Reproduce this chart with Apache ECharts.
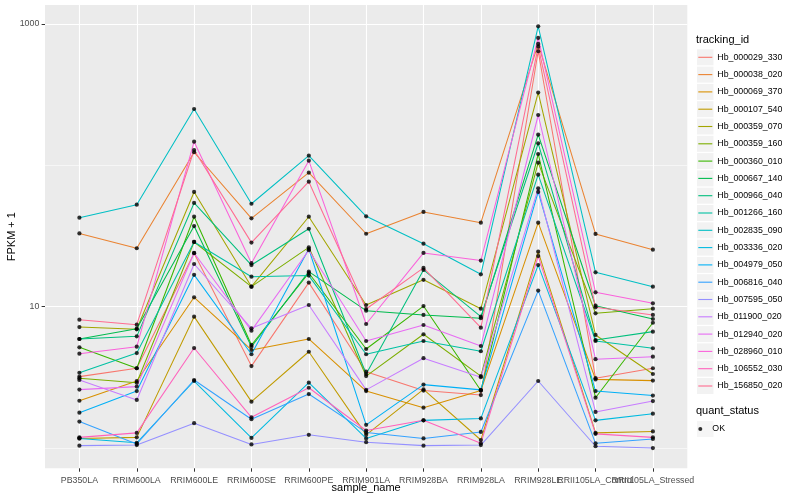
<!DOCTYPE html>
<html>
<head>
<meta charset="utf-8">
<script src="https://cdn.jsdelivr.net/npm/echarts@6/dist/echarts.min.js"></script>
<style>html,body{margin:0;padding:0;background:#fff}#c{width:800px;height:500px}</style>
</head>
<body>
<div id="c"></div>
<script>
// ---- data (FPKM + 1) ----
const categories = ['PB350LA','RRIM600LA','RRIM600LE','RRIM600SE','RRIM600PE','RRIM901LA','RRIM928BA','RRIM928LA','RRIM928LE','RRII105LA_Control','RRII105LA_Stressed'];
const trackingIds = ['Hb_000029_330','Hb_000038_020','Hb_000069_370','Hb_000107_540','Hb_000359_070','Hb_000359_160','Hb_000360_010','Hb_000667_140','Hb_000966_040','Hb_001266_160','Hb_002835_090','Hb_003336_020','Hb_004979_050','Hb_006816_040','Hb_007595_050','Hb_011900_020','Hb_012940_020','Hb_028960_010','Hb_106552_030','Hb_156850_020'];
const quantStatus = ['OK'];

const hb_000029_330 = [3.2, 3.67, 23.9, 3.8, 14.8, 3.47, 2.55, 2.37, 641, 3.12, 3.67];
const hb_000038_020 = [33.0, 25.9, 123.7, 42.2, 88.7, 32.8, 46.8, 39.3, 722, 32.7, 25.3];
const hb_000069_370 = [2.16, 2.98, 11.65, 4.94, 5.91, 2.53, 1.93, 2.55, 39.3, 3.06, 3.0];
const hb_000107_540 = [1.17, 1.19, 8.5, 2.13, 4.8, 1.24, 2.6, 1.14, 24.5, 1.28, 1.31];
const hb_000359_070 = [7.18, 6.92, 64.8, 13.85, 43.3, 10.28, 15.5, 9.68, 327, 6.31, 3.34];
const hb_000359_160 = [3.12, 2.9, 28.7, 13.85, 26.3, 3.23, 6.38, 3.23, 104.4, 8.98, 9.68];
const hb_000360_010 = [5.16, 3.67, 43.3, 5.36, 17.3, 5.02, 10.1, 2.55, 120.3, 2.27, 7.7];
const hb_000667_140 = [5.91, 6.99, 37.2, 5.21, 17.7, 9.37, 8.74, 8.28, 164.8, 10.16, 8.18];
const hb_000966_040 = [5.91, 6.17, 54.2, 19.7, 35.6, 3.34, 18.2, 8.5, 143.2, 5.81, 6.66];
const hb_001266_160 = [3.41, 4.7, 28.7, 16.3, 16.6, 4.61, 5.72, 4.84, 85.9, 5.72, 5.08];
const hb_002835_090 = [42.6, 52.7, 250.4, 53.5, 117, 43.6, 27.9, 16.95, 963, 17.5, 13.85];
const hb_003336_020 = [1.17, 1.09, 2.98, 1.18, 2.9, 1.17, 1.57, 1.62, 19.7, 1.57, 1.75];
const hb_004979_050 = [1.78, 2.53, 16.8, 4.61, 25.6, 1.46, 2.81, 2.58, 64.8, 2.53, 2.35];
const hb_006816_040 = [1.54, 1.07, 3.03, 1.6, 2.41, 1.29, 1.17, 1.3, 13.0, 1.08, 1.16];
const hb_007595_050 = [1.04, 1.05, 1.5, 1.06, 1.24, 1.1, 1.04, 1.05, 2.98, 1.03, 1.0];
const hb_011900_020 = [3.03, 2.19, 20.05, 7.03, 10.28, 2.58, 4.32, 3.17, 68.8, 1.8, 2.15];
const hb_012940_020 = [2.59, 2.72, 24.0, 6.77, 25.1, 5.72, 7.42, 5.27, 227, 4.25, 4.43];
const hb_028960_010 = [4.65, 5.21, 147, 20.3, 107.9, 7.54, 24.0, 21.2, 796, 12.64, 10.57];
const hb_106552_030 = [1.19, 1.28, 5.1, 1.65, 2.67, 1.33, 1.57, 1.08, 22.8, 1.26, 1.19];
const hb_156850_020 = [8.09, 7.46, 128.4, 28.4, 76.6, 9.63, 18.8, 7.1, 691, 9.9, 8.74];

const xTickValues = [0,1,2,3,4,5,6,7,8,9,10];
const xLabelValuesMain = [0,1,2,3,4,5,6,7,8,10];   // labels drawn by the main x axis
const xLabelValuesExtra = [9];                       // overlapping label drawn by a second, label-only x axis
const yMajorValues = [10, 1000];
const yMinorValues = [1, 100];
const yMin = 0.719, yMax = 1362;

// ---- styles ----
const palette = ['#F8766D','#EA8331','#D89000','#C09B00','#A3A500','#7CAE00','#39B600','#00BB4E','#00BF7D','#00C1A3','#00BFC4','#00BAE0','#00B0F6','#35A2FF','#9590FF','#C77CFF','#E76BF3','#FA62DB','#FF62BC','#FF6C91'];
const FONT = '"Liberation Sans", Arial, Helvetica, sans-serif';

const seriesValues = [hb_000029_330, hb_000038_020, hb_000069_370, hb_000107_540, hb_000359_070, hb_000359_160, hb_000360_010, hb_000667_140, hb_000966_040, hb_001266_160, hb_002835_090, hb_003336_020, hb_004979_050, hb_006816_040, hb_007595_050, hb_011900_020, hb_012940_020, hb_028960_010, hb_106552_030, hb_156850_020];

const lineSeries = trackingIds.map((id, s) => ({
  name: id,
  type: 'line',
  xAxisIndex: 0, yAxisIndex: 0,
  data: seriesValues[s].map((v, i) => [i, v]),
  symbol: 'none', showSymbol: false,
  color: palette[s],
  lineStyle: { width: 1.05, color: palette[s] },
  z: 2, silent: true
}));

const pointSeries = {
  name: quantStatus[0],
  type: 'scatter',
  xAxisIndex: 0, yAxisIndex: 0,
  data: seriesValues.flatMap(vals => vals.map((v, i) => [i, v])),
  symbol: 'circle', symbolSize: 4.2,
  itemStyle: { color: '#000000' },
  z: 3, silent: true
};

const legendTop = 49.3;
const legendText = { fontSize: 8.8, color: '#000000', fontFamily: FONT, lineHeight: 16 };
const xLabelStyle = { formatter: v => categories[Math.round(v)], fontSize: 8.8, color: '#4D4D4D', margin: 7.5, fontFamily: FONT, hideOverlap: false, showMinLabel: true, showMaxLabel: true };

const option = {
  animation: false,
  backgroundColor: '#FFFFFF',
  textStyle: { fontFamily: FONT },
  title: [
    { text: 'tracking_id', left: 696, top: 34.4, padding: 0, textStyle: { fontSize: 11, fontWeight: 'normal', color: '#000', fontFamily: FONT } },
    { text: 'quant_status', left: 696, top: 405.7, padding: 0, textStyle: { fontSize: 11, fontWeight: 'normal', color: '#000', fontFamily: FONT } }
  ],
  grid: { left: 45, right: 112.7, top: 5, bottom: 31.7, show: true, backgroundColor: '#EBEBEB', borderWidth: 0, containLabel: false, outerBoundsMode: 'none' },
  xAxis: [
    {
      type: 'value', min: -0.6, max: 10.6, position: 'bottom',
      name: 'sample_name', nameLocation: 'middle', nameGap: 14.1, nameMoveOverlap: false,
      nameTextStyle: { fontSize: 11, color: '#000', fontFamily: FONT },
      axisLine: { show: false, onZero: false },
      axisTick: { show: true, length: 3.4, customValues: xTickValues, lineStyle: { color: '#333333', width: 1.05 } },
      axisLabel: Object.assign({ customValues: xLabelValuesMain }, xLabelStyle),
      splitLine: { show: true, lineStyle: { color: '#FFFFFF', width: 1.1 } }
    },
    {
      type: 'value', min: -0.6, max: 10.6, position: 'bottom',
      axisLine: { show: false, onZero: false },
      axisTick: { show: false, customValues: xLabelValuesExtra },
      axisLabel: Object.assign({ customValues: xLabelValuesExtra }, xLabelStyle),
      splitLine: { show: false }
    }
  ],
  yAxis: [
    {
      type: 'log', logBase: 10, min: yMin, max: yMax,
      name: 'FPKM + 1', nameLocation: 'middle', nameGap: 27.8, nameMoveOverlap: false,
      nameTextStyle: { fontSize: 11, color: '#000', fontFamily: FONT },
      axisLine: { show: false, onZero: false },
      axisTick: { show: true, length: 3.4, customValues: yMajorValues, lineStyle: { color: '#333333', width: 1.05 } },
      axisLabel: { customValues: yMajorValues, formatter: v => String(Math.round(v)), fontSize: 8.8, color: '#4D4D4D', margin: 5.7, fontFamily: FONT, showMinLabel: true, showMaxLabel: true },
      splitLine: { show: true, lineStyle: { color: '#FFFFFF', width: 1.1 } }
    },
    {
      type: 'log', logBase: 10, min: yMin, max: yMax, position: 'left',
      axisLine: { show: false, onZero: false },
      axisTick: { show: false, customValues: yMinorValues },
      axisLabel: { show: false },
      splitLine: { show: true, lineStyle: { color: '#FFFFFF', width: 0.55 } }
    }
  ],
  legend: [
    { // key backgrounds
      data: trackingIds.map(n => ({ name: n })),
      orient: 'vertical', left: 697, top: legendTop, padding: 0,
      itemWidth: 16.5, itemHeight: 16, itemGap: 1.3,
      icon: 'rect', itemStyle: { color: '#F2F2F2', borderWidth: 0 },
      formatter: () => '', textStyle: legendText, selectedMode: false, z: 4
    },
    { // key lines + labels
      data: trackingIds.map(n => ({ name: n })),
      orient: 'vertical', left: 698.3, top: legendTop, padding: 0,
      itemWidth: 14, itemHeight: 1.1, itemGap: 1.3,
      icon: 'rect', itemStyle: { borderWidth: 0 },
      textStyle: legendText, selectedMode: false, z: 5
    },
    {
      data: quantStatus.map(n => ({ name: n })),
      orient: 'vertical', left: 697, top: 421, padding: 0,
      itemWidth: 16.5, itemHeight: 16, itemGap: 1.3,
      icon: 'rect', itemStyle: { color: '#F2F2F2', borderWidth: 0 },
      formatter: () => '', textStyle: legendText, selectedMode: false, z: 4
    },
    {
      data: quantStatus.map(n => ({ name: n })),
      orient: 'vertical', left: 698.3, top: 421, padding: 0,
      itemWidth: 14, itemHeight: 4, itemGap: 1.3,
      icon: 'circle', itemStyle: { borderWidth: 0 },
      textStyle: legendText, selectedMode: false, z: 5
    }
  ],
  series: [...lineSeries, pointSeries]
};

const chart = echarts.init(document.getElementById('c'), null, { renderer: 'canvas', width: 800, height: 500 });
chart.setOption(option);
</script>
</body>
</html>
